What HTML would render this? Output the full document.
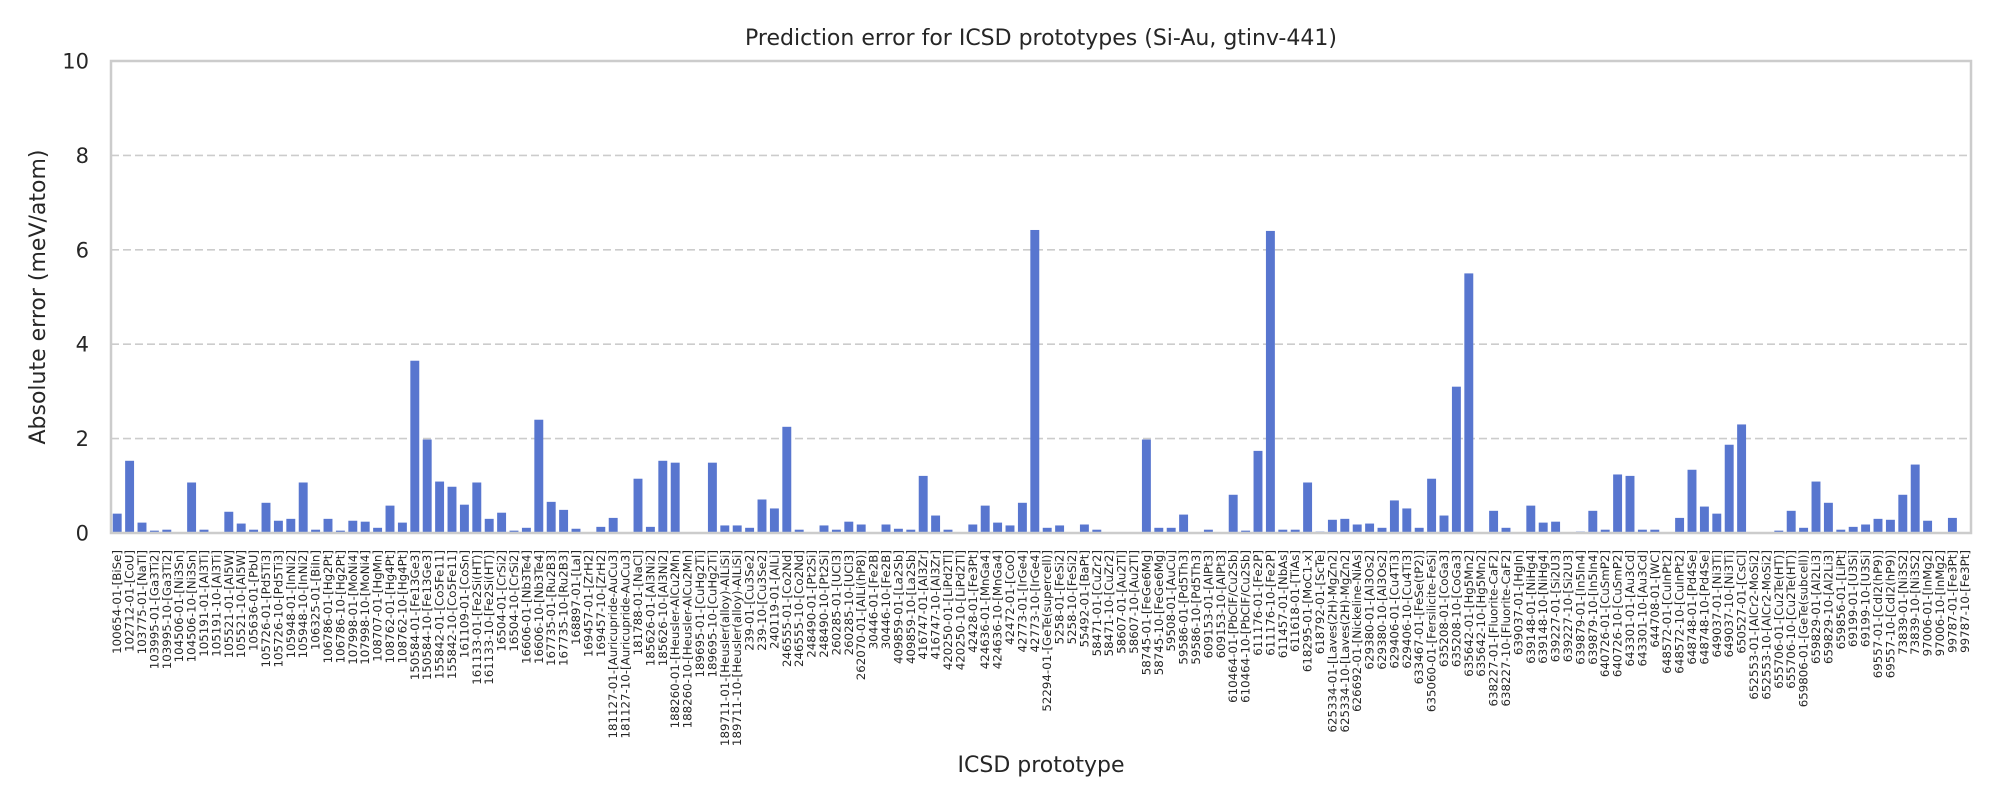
<!DOCTYPE html>
<html><head><meta charset="utf-8"><style>
html,body{margin:0;padding:0;background:#fff;}
svg{display:block;font-family:"DejaVu Sans","Liberation Sans",sans-serif;}
</style></head><body>
<svg id="chart" width="2000" height="800" viewBox="0 0 2000 800" xmlns="http://www.w3.org/2000/svg">
<rect x="0" y="0" width="2000" height="800" fill="#fff"/>
<text x="1041" y="45" text-anchor="middle" font-size="22" fill="#262626">Prediction error for ICSD prototypes (Si-Au, gtinv-441)</text>
<text transform="translate(45,297) rotate(-90)" text-anchor="middle" font-size="22" fill="#262626">Absolute error (meV/atom)</text>
<text x="1041" y="772" text-anchor="middle" font-size="22" fill="#262626">ICSD prototype</text>
<g id="grid"></g><g id="bars"></g><g id="yticks"></g><g id="xticks"></g>
<rect x="111" y="61" width="1860" height="472" fill="none" stroke="#cccccc" stroke-width="2.5"/>
</svg>
<script>
const categories = ["100654-01-[BiSe]","102712-01-[CoU]","103775-01-[NaTl]","103995-01-[Ga3Ti2]","103995-10-[Ga3Ti2]","104506-01-[Ni3Sn]","104506-10-[Ni3Sn]","105191-01-[Al3Ti]","105191-10-[Al3Ti]","105521-01-[Al5W]","105521-10-[Al5W]","105636-01-[PbU]","105726-01-[Pd5Ti3]","105726-10-[Pd5Ti3]","105948-01-[InNi2]","105948-10-[InNi2]","106325-01-[BiIn]","106786-01-[Hg2Pt]","106786-10-[Hg2Pt]","107998-01-[MoNi4]","107998-10-[MoNi4]","108707-01-[HgMn]","108762-01-[Hg4Pt]","108762-10-[Hg4Pt]","150584-01-[Fe13Ge3]","150584-10-[Fe13Ge3]","155842-01-[Co5Fe11]","155842-10-[Co5Fe11]","161109-01-[CoSn]","161133-01-[Fe2Si(HT)]","161133-10-[Fe2Si(HT)]","16504-01-[CrSi2]","16504-10-[CrSi2]","16606-01-[Nb3Te4]","16606-10-[Nb3Te4]","167735-01-[Ru2B3]","167735-10-[Ru2B3]","168897-01-[LaI]","169457-01-[ZrH2]","169457-10-[ZrH2]","181127-01-[Auricupride-AuCu3]","181127-10-[Auricupride-AuCu3]","181788-01-[NaCl]","185626-01-[Al3Ni2]","185626-10-[Al3Ni2]","188260-01-[Heusler-AlCu2Mn]","188260-10-[Heusler-AlCu2Mn]","189695-01-[CuHg2Ti]","189695-10-[CuHg2Ti]","189711-01-[Heusler(alloy)-AlLiSi]","189711-10-[Heusler(alloy)-AlLiSi]","239-01-[Cu3Se2]","239-10-[Cu3Se2]","240119-01-[AlLi]","246555-01-[Co2Nd]","246555-10-[Co2Nd]","248490-01-[Pt2Si]","248490-10-[Pt2Si]","260285-01-[UCl3]","260285-10-[UCl3]","262070-01-[AlLi(hP8)]","30446-01-[Fe2B]","30446-10-[Fe2B]","409859-01-[La2Sb]","409859-10-[La2Sb]","416747-01-[Al3Zr]","416747-10-[Al3Zr]","420250-01-[LiPd2Tl]","420250-10-[LiPd2Tl]","42428-01-[Fe3Pt]","424636-01-[MnGa4]","424636-10-[MnGa4]","42472-01-[CoO]","42773-01-[IrGe4]","42773-10-[IrGe4]","52294-01-[GeTe(supercell)]","5258-01-[FeSi2]","5258-10-[FeSi2]","55492-01-[BaPt]","58471-01-[CuZr2]","58471-10-[CuZr2]","58607-01-[Au2Tl]","58607-10-[Au2Tl]","58745-01-[FeGe6Mg]","58745-10-[FeGe6Mg]","59508-01-[AuCu]","59586-01-[Pd5Th3]","59586-10-[Pd5Th3]","609153-01-[AlPt3]","609153-10-[AlPt3]","610464-01-[PbClF/Cu2Sb]","610464-10-[PbClF/Cu2Sb]","611176-01-[Fe2P]","611176-10-[Fe2P]","611457-01-[NbAs]","611618-01-[TiAs]","618295-01-[MoC1-x]","618792-01-[ScTe]","625334-01-[Laves(2H)-MgZn2]","625334-10-[Laves(2H)-MgZn2]","626692-01-[Nickeline-NiAs]","629380-01-[Al3Os2]","629380-10-[Al3Os2]","629406-01-[Cu4Ti3]","629406-10-[Cu4Ti3]","633467-01-[FeSe(tP2)]","635060-01-[Fersilicite-FeSi]","635208-01-[CoGa3]","635208-10-[CoGa3]","635642-01-[Hg5Mn2]","635642-10-[Hg5Mn2]","638227-01-[Fluorite-CaF2]","638227-10-[Fluorite-CaF2]","639037-01-[HgIn]","639148-01-[NiHg4]","639148-10-[NiHg4]","639227-01-[Si2U3]","639227-10-[Si2U3]","639879-01-[In5In4]","639879-10-[In5In4]","640726-01-[CuSmP2]","640726-10-[CuSmP2]","643301-01-[Au3Cd]","643301-10-[Au3Cd]","644708-01-[WC]","648572-01-[CuInPt2]","648572-10-[CuInPt2]","648748-01-[Pd4Se]","648748-10-[Pd4Se]","649037-01-[Ni3Ti]","649037-10-[Ni3Ti]","650527-01-[CsCl]","652553-01-[AlCr2-MoSi2]","652553-10-[AlCr2-MoSi2]","655706-01-[Cu2Te(HT)]","655706-10-[Cu2Te(HT)]","659806-01-[GeTe(subcell)]","659829-01-[Al2Li3]","659829-10-[Al2Li3]","659856-01-[LiPt]","69199-01-[U3Si]","69199-10-[U3Si]","69557-01-[CdI2(hP9)]","69557-10-[CdI2(hP9)]","73839-01-[Ni3S2]","73839-10-[Ni3S2]","97006-01-[InMg2]","97006-10-[InMg2]","99787-01-[Fe3Pt]","99787-10-[Fe3Pt]"];
const errors = [0.41,1.53,0.22,0.05,0.07,0,1.07,0.07,0,0.45,0.2,0.07,0.64,0.26,0.30,1.07,0.07,0.30,0.05,0.26,0.24,0.11,0.58,0.22,3.65,1.98,1.09,0.98,0.6,1.07,0.30,0.43,0.05,0.11,2.4,0.66,0.49,0.09,0,0.13,0.32,0,1.15,0.13,1.53,1.49,0,0,1.49,0.16,0.16,0.11,0.71,0.52,2.25,0.07,0,0.16,0.07,0.24,0.18,0,0.18,0.09,0.07,1.21,0.37,0.07,0,0.18,0.58,0.22,0.16,0.64,6.42,0.11,0.16,0,0.18,0.07,0,0,0,1.98,0.11,0.11,0.39,0,0.07,0,0.81,0.05,1.74,6.4,0.07,0.07,1.07,0.03,0.28,0.30,0.18,0.2,0.11,0.69,0.52,0.11,1.15,0.37,3.1,5.5,0,0.47,0.11,0,0.58,0.22,0.24,0,0.03,0.47,0.07,1.24,1.21,0.07,0.07,0,0.32,1.34,0.56,0.41,1.87,2.3,0,0,0.05,0.47,0.11,1.09,0.64,0.07,0.13,0.18,0.30,0.28,0.81,1.45,0.26,0,0.32,0];
const yTicks = [0,2,4,6,8,10];

const NS="http://www.w3.org/2000/svg";
const PL=111, PR=1971, PT=61, PB=533, YMAX=10;
const band=(PR-PL)/categories.length;
function xScale(i){return PL+band*(i+0.5);}
function yScale(v){return PB-(v/YMAX)*(PB-PT);}
function mk(tag,attrs,parent){const e=document.createElementNS(NS,tag);for(const k in attrs)e.setAttribute(k,attrs[k]);parent.appendChild(e);return e;}

const grid=document.getElementById('grid'), yt=document.getElementById('yticks');
yTicks.forEach(t=>{
  const y=yScale(t);
  if(t>0&&t<YMAX){
    const l=mk('line',{x1:PL,x2:PR,y1:y,y2:y,stroke:'#cccccc','stroke-width':1.6,'stroke-dasharray':'8,4'},grid);
    
    
  }
  const tx=mk('text',{x:89,y:y+7.5,'text-anchor':'end','font-size':21,fill:'#262626'},yt);
  tx.textContent=t;
  
  
});
const bars=document.getElementById('bars'), xt=document.getElementById('xticks');
const bw=band*0.72;
categories.forEach((c,i)=>{
  const v=errors[i], x=xScale(i);
  const r=mk('rect',{x:x-bw/2,y:yScale(v),width:bw,height:Math.max(0,PB-yScale(v)),fill:'#5876cf'},bars);
  
  
  const t=mk('text',{transform:'translate('+(x+4)+',550) rotate(-90)','text-anchor':'end','font-size':11.8,fill:'#262626'},xt);
  t.textContent=c;
  
  
});
</script>
</body></html>
